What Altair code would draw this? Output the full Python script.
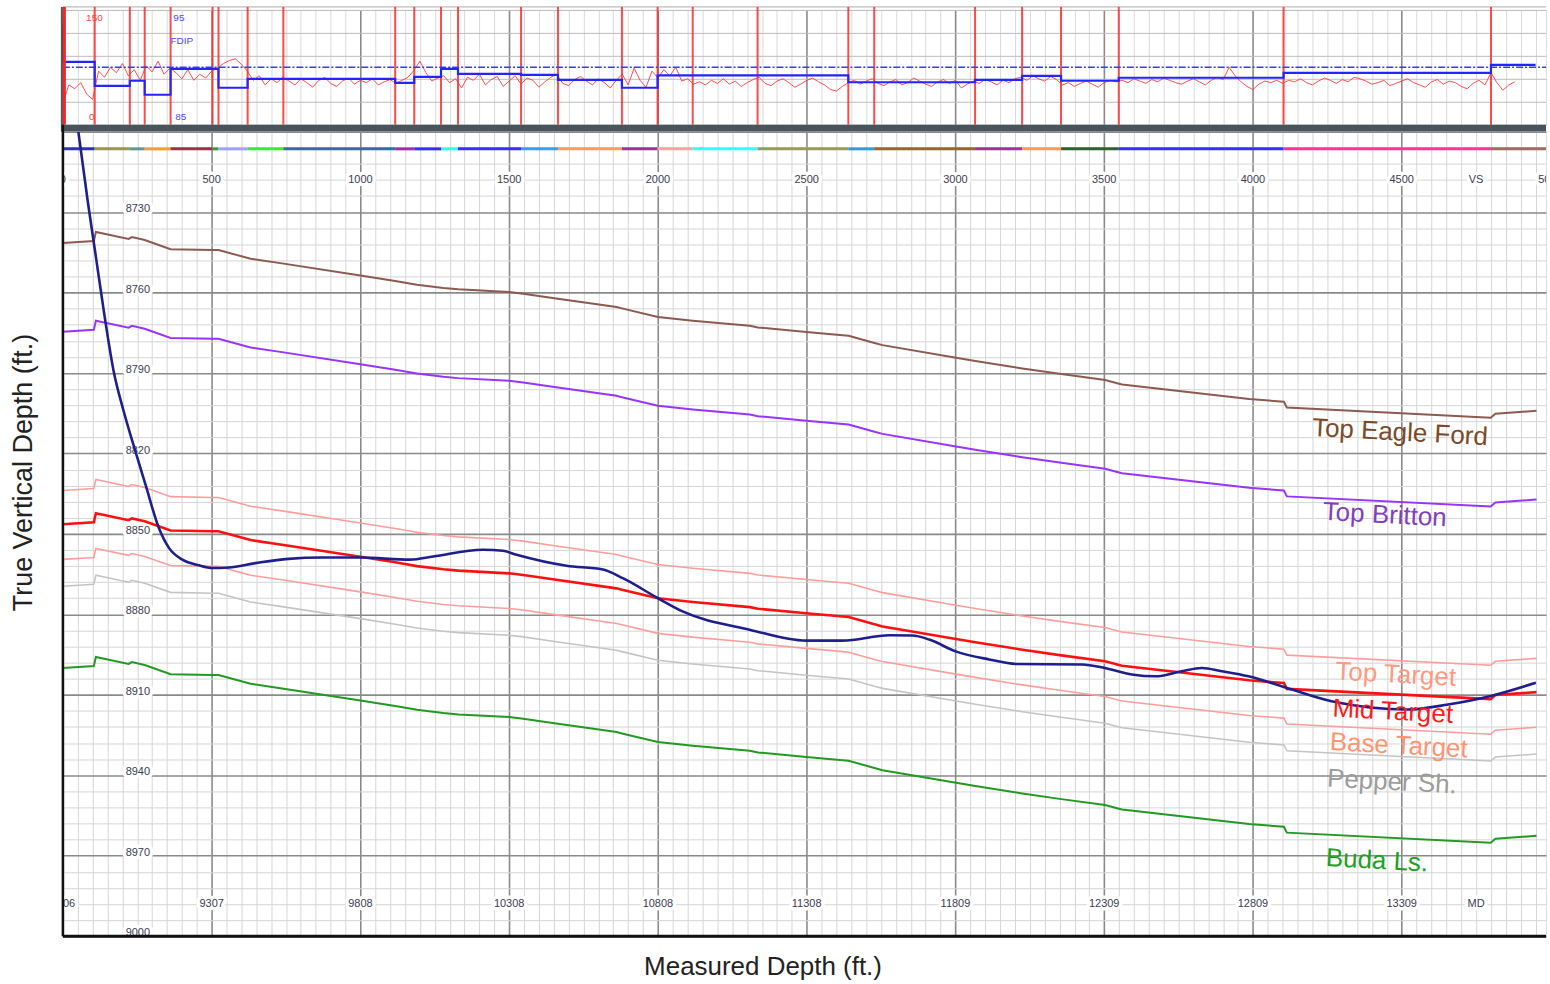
import altair as alt
import pandas as pd

FONT = "Liberation Sans"
VS_MAX = 4985          # right edge of the section, ft of vertical section
W = 1486               # panel width, px
H_STRIP = 115          # log strip height, px
H_MAIN = 806           # cross-section height, px

# ---------------- formation tops along the section ----------------
form_vs = [0, 104, 111, 221, 232, 275, 362, 503, 523, 631, 742, 1000, 1117, 1190,
           1279, 1329, 1500, 1547, 1664, 1861, 1879, 2000, 2117, 2309, 2336, 2499,
           2621, 2641, 2728, 2755, 3002, 3067, 3225, 3356, 3503, 3550, 3560, 3987,
           4104, 4114, 4799, 4815, 4953]

top_eagle_ford = [8741.5, 8740.8, 8737.4, 8740.0, 8739.3, 8740.4, 8743.8, 8744.1, 8744.1,
                  8747.4, 8749.2, 8753.6, 8755.7, 8757.1, 8758.3, 8758.8, 8759.8, 8760.4,
                  8762.3, 8765.4, 8765.9, 8769.1, 8770.5, 8772.4, 8773.0, 8774.7, 8775.9,
                  8776.1, 8778.8, 8779.6, 8784.3, 8785.5, 8788.3, 8790.4, 8792.6, 8794.0,
                  8794.3, 8799.7, 8800.7, 8802.9, 8806.7, 8805.2, 8804.1]

top_britton = [8774.6, 8773.9, 8770.5, 8773.1, 8772.4, 8773.5, 8776.9, 8777.2, 8777.2,
               8780.5, 8782.3, 8786.7, 8788.8, 8790.2, 8791.4, 8791.9, 8792.9, 8793.5,
               8795.4, 8798.5, 8799.0, 8802.2, 8803.6, 8805.5, 8806.1, 8807.8, 8809.0,
               8809.2, 8811.9, 8812.7, 8817.4, 8818.6, 8821.4, 8823.5, 8825.7, 8827.1,
               8827.4, 8832.8, 8833.8, 8836.0, 8839.8, 8838.3, 8837.2]

top_target = [8833.8, 8833.1, 8829.7, 8832.3, 8831.6, 8832.7, 8836.1, 8836.4, 8836.4,
              8839.7, 8841.5, 8845.9, 8848.0, 8849.4, 8850.6, 8851.1, 8852.1, 8852.7,
              8854.6, 8857.7, 8858.2, 8861.4, 8862.8, 8864.7, 8865.3, 8867.0, 8868.2,
              8868.4, 8871.1, 8871.9, 8876.6, 8877.8, 8880.6, 8882.7, 8884.9, 8886.3,
              8886.6, 8892.0, 8893.0, 8895.2, 8899.0, 8897.5, 8896.4]

mid_target = [8846.4, 8845.7, 8842.3, 8844.9, 8844.2, 8845.3, 8848.7, 8849.0, 8849.0,
              8852.3, 8854.1, 8858.5, 8860.6, 8862.0, 8863.2, 8863.7, 8864.7, 8865.3,
              8867.2, 8870.3, 8870.8, 8874.0, 8875.4, 8877.3, 8877.9, 8879.6, 8880.8,
              8881.0, 8883.7, 8884.5, 8889.2, 8890.4, 8893.2, 8895.3, 8897.5, 8898.9,
              8899.2, 8904.6, 8905.6, 8907.8, 8911.6, 8910.1, 8909.0]

base_target = [8859.5, 8858.8, 8855.4, 8858.0, 8857.3, 8858.4, 8861.8, 8862.1, 8862.1,
               8865.4, 8867.2, 8871.6, 8873.7, 8875.1, 8876.3, 8876.8, 8877.8, 8878.4,
               8880.3, 8883.4, 8883.9, 8887.1, 8888.5, 8890.4, 8891.0, 8892.7, 8893.9,
               8894.1, 8896.8, 8897.6, 8902.3, 8903.5, 8906.3, 8908.4, 8910.6, 8912.0,
               8912.3, 8917.7, 8918.7, 8920.9, 8924.7, 8923.2, 8922.1]

pepper_sh = [8869.5, 8868.8, 8865.4, 8868.0, 8867.3, 8868.4, 8871.8, 8872.1, 8872.1,
             8875.4, 8877.2, 8881.6, 8883.7, 8885.1, 8886.3, 8886.8, 8887.8, 8888.4,
             8890.3, 8893.4, 8893.9, 8897.1, 8898.5, 8900.4, 8901.0, 8902.7, 8903.9,
             8904.1, 8906.8, 8907.6, 8912.3, 8913.5, 8916.3, 8918.4, 8920.6, 8922.0,
             8922.3, 8927.7, 8928.7, 8930.9, 8934.7, 8933.2, 8932.1]

buda_ls = [8900.0, 8899.3, 8895.9, 8898.5, 8897.8, 8898.9, 8902.3, 8902.6, 8902.6,
           8905.9, 8907.7, 8912.1, 8914.2, 8915.6, 8916.8, 8917.3, 8918.3, 8918.9,
           8920.8, 8923.9, 8924.4, 8927.6, 8929.0, 8930.9, 8931.5, 8933.2, 8934.4,
           8934.6, 8937.3, 8938.1, 8942.8, 8944.0, 8946.8, 8948.9, 8951.1, 8952.5,
           8952.8, 8958.2, 8959.2, 8961.4, 8965.2, 8963.7, 8962.6]

formation_names = ["Top Eagle Ford", "Top Britton", "Top Target", "Mid Target",
                   "Base Target", "Pepper Sh.", "Buda Ls."]
formation_tops = [top_eagle_ford, top_britton, top_target, mid_target,
                  base_target, pepper_sh, buda_ls]

# ---------------- wellbore trajectory ----------------
well_vs = [52, 84, 111, 138, 171, 203, 234, 278, 323, 357, 402, 457, 502, 557, 647,
           758, 871, 1000, 1167, 1245, 1412, 1479, 1525, 1693, 1815, 1882, 1999, 2083,
           2308, 2498, 2620, 2778, 2855, 2912, 3001, 3113, 3203, 3425, 3502, 3593,
           3672, 3761, 3828, 3895, 3985, 4096, 4264, 4522, 4656, 4796, 4951]
well_tvd = [8700.0, 8726.3, 8746.7, 8767.2, 8789.5, 8803.7, 8815.6, 8831.7, 8847.9,
            8855.3, 8859.6, 8861.7, 8862.7, 8862.5, 8860.9, 8859.3, 8858.8, 8858.8,
            8859.6, 8858.4, 8855.9, 8856.3, 8857.8, 8861.9, 8863.3, 8866.5, 8873.9,
            8878.9, 8885.7, 8889.8, 8889.8, 8887.8, 8887.9, 8889.4, 8893.8, 8896.8,
            8898.5, 8898.7, 8900.0, 8902.4, 8903.1, 8901.2, 8900.0, 8901.2, 8903.1,
            8906.8, 8912.4, 8915.5, 8913.6, 8910.5, 8905.5]

# ---------------- gamma ray log (sampled every 20 ft VS) ----------------
gr_vs = list(range(0, 4881, 20))
gr_api = [
    28, 52, 47, 55, 40, 33,
    70, 62, 75, 68, 80, 64, 72, 58, 77, 69, 83, 66, 74,
    68, 60, 72, 58, 66, 61, 70,
    74, 80, 84, 86, 79, 70,
    58, 64, 52, 60, 55, 62,
    57, 52, 60, 55, 49, 58, 62, 54, 50, 57, 61, 53, 58, 55, 60, 52, 56, 59,
    54, 58, 62, 71, 83, 68, 57, 61, 64,
    55, 60, 48, 62, 58, 66, 52, 59, 63, 50, 57, 64, 53, 61, 58, 49, 56, 62, 66, 54,
    51, 59, 63, 57, 52, 60, 55, 48, 58,
    66, 52, 74, 58, 49, 70, 61,
    72, 64, 75, 57, 60, 53,
    56, 52, 58, 54, 60, 53, 57, 50, 55, 59, 62, 54, 51, 57, 60, 55, 49, 53, 58, 61,
    56, 52, 46, 44, 50, 55, 58, 53, 57, 60, 54, 51, 56, 59, 52, 55, 61, 57, 53, 50,
    56, 59, 54, 58,
    48, 53, 57, 54, 59, 56, 52, 58, 55, 60,
    62, 58, 64, 60, 57, 63, 59, 52, 55, 50, 54, 57, 53, 49, 55, 58, 56,
    58, 55, 60, 57, 54, 59, 56, 61, 58, 55, 53, 57, 60, 56, 52, 58, 62, 59, 75, 64,
    56, 50, 46, 53, 57, 55, 58,
    54, 58, 56, 60, 55, 52, 57, 61, 58, 54, 59, 56, 62, 60, 57, 53, 55, 58, 51, 54,
    57, 60, 55, 52, 49, 56, 59, 53, 57, 55, 50, 47, 54, 58, 52,
    68, 55, 45, 52, 56,
]

# ---------------- dip picks ----------------
pick_vs = [107, 225, 275, 362, 503, 523, 621, 741, 1117, 1181, 1271, 1328, 1540,
           1664, 1879, 1999, 2117, 2335, 2640, 2727, 3066, 3224, 3355, 3549, 4103, 4800]

dip_vs = [0, 0, 107, 225, 275, 362, 523, 621, 1117, 1181, 1271, 1328, 1540, 1664,
          1879, 1999, 2640, 3066, 3224, 3355, 3549, 4103, 4800, 4950]
dip_deg = [93.7, 90.48, 88.39, 88.83, 87.61, 89.87, 88.22, 89.0, 88.65, 89.17, 89.87,
           89.43, 89.35, 88.91, 88.22, 89.3, 88.7, 88.91, 89.26, 88.83, 89.09, 89.52,
           90.22, 90.22]

# zone colour band between picks
band_edges = [0, 107, 225, 275, 362, 503, 523, 621, 741, 1117, 1181, 1271, 1328, 1540,
              1664, 1879, 1999, 2117, 2335, 2640, 2727, 3066, 3224, 3355, 3549, 4103,
              4800, 4985]
band_colors = ["#3030c0", "#9a9a40", "#5f9a9a", "#ff9a33", "#a0304a", "#30a030",
               "#a0a0ff", "#30f030", "#2f6f9f", "#a030a0", "#3030ff", "#30ffff",
               "#3030ff", "#30a0ff", "#ff9a5a", "#a030a0", "#ffa0a0", "#30ffff",
               "#9a9a60", "#30a0d0", "#a06030", "#a030a0", "#ff9a50", "#306030",
               "#3030ff", "#ff3399", "#a06a60"]

# ---------------- scale labels ----------------
vs_ticks = [0, 500, 1000, 1500, 2000, 2500, 3000, 3500, 4000, 4500, 5000]
md_ticks = ["8806", "9307", "9808", "10308", "10808", "11308", "11809", "12309",
            "12809", "13309"]
tvd_ticks = [8730, 8760, 8790, 8820, 8850, 8880, 8910, 8940, 8970, 9000]

# ---------------- styles ----------------
line_styles = {
    "Top Eagle Ford": ("#8c5a50", 2.0),
    "Top Britton": ("#9933ff", 2.0),
    "Top Target": ("#ff9d9d", 1.6),
    "Mid Target": ("#ff1010", 2.6),
    "Base Target": ("#ff9d9d", 1.6),
    "Pepper Sh.": ("#c4c4c4", 1.6),
    "Buda Ls.": ("#229a22", 2.0),
}
label_colors = ["#7a4a28", "#8040c0", "#ff9a80", "#ff1a1a", "#ff9470", "#9c9c9c", "#20a020"]
label_vs = [4494, 4443, 4480, 4470, 4490, 4467, 4417]
label_tvd = [8812.2, 8843.0, 8902.5, 8916.3, 8929.0, 8942.5, 8971.9]

# ---------------- scales / axes ----------------
vs_scale = alt.Scale(domain=[0, VS_MAX], nice=False, zero=False)
tvd_scale = alt.Scale(domain=[8700, 9000], reverse=True, nice=False, zero=False)
gr_scale = alt.Scale(domain=[0, 150], nice=False, zero=False)
dip_scale = alt.Scale(domain=[85, 95], nice=False, zero=False)


def grid_props(test, minor="#d6d6d6", major="#8a8a8a"):
    return dict(
        grid=True, labels=False, ticks=False, domain=False,
        gridColor={"condition": {"test": test, "value": major}, "value": minor},
        gridWidth={"condition": {"test": test, "value": 1.6}, "value": 1},
    )


title_style = dict(titleFont=FONT, titleFontWeight="normal", titleColor="#222222",
                   titleAlign="center", titleBaseline="middle")

X_MAIN = alt.X("vs:Q", scale=vs_scale,
               axis=alt.Axis(values=list(range(0, 5001, 50)),
                             title="Measured Depth (ft.)", titleX=701, titleY=30,
                             titleFontSize=26,
                             **grid_props("datum.value % 500 === 0"), **title_style))
Y_MAIN = alt.Y("tvd:Q", scale=tvd_scale,
               axis=alt.Axis(values=list(range(8700, 9001, 6)),
                             title="True Vertical Depth (ft.)", titleX=-39, titleY=341,
                             titleAngle=270, titleFontSize=27,
                             **grid_props("datum.value % 30 === 0"), **title_style))

X_STRIP = alt.X("vs:Q", scale=vs_scale,
                axis=alt.Axis(values=list(range(0, 5001, 50)), title=None,
                              **grid_props("datum.value % 500 === 0", minor="#dadada")))
Y_GR = alt.Y("gr:Q", scale=gr_scale,
             axis=alt.Axis(values=[0, 30, 60, 90, 120, 150], title=None, grid=True,
                           labels=False, ticks=False, domain=False, gridColor="#bdbdbd"))
Y_GR_NOAX = alt.Y("gr:Q", scale=gr_scale, axis=None)
Y_DIP = alt.Y("dip:Q", scale=dip_scale, axis=None)

EMPTY = alt.Data(values=[{}])

# ---------------- log strip ----------------
gr_df = pd.DataFrame({"vs": gr_vs, "gr": gr_api})
pick_df = pd.DataFrame({"vs": pick_vs})
dip_df = pd.DataFrame({"vs": dip_vs, "dip": dip_deg})
dip90_df = pd.DataFrame({"vs": [0, VS_MAX], "dip": [90, 90]})
gr_lbl = pd.DataFrame({"vs": [106, 97], "gr": [139.6, 10.4], "text": ["150", "0"]})
dip_lbl = pd.DataFrame({"vs": [390, 396, 400], "dip": [94.3, 85.7, 92.3],
                        "text": ["95", "85", "FDIP"]})

strip_layers = [
    alt.Chart(gr_df).mark_line(opacity=0).encode(x=X_STRIP, y=Y_GR),
    alt.Chart(EMPTY).mark_rule(color="#bdbdbd", strokeWidth=1.2).encode(
        x=alt.value(0), x2=alt.value(W), y=alt.value(-3)),
    alt.Chart(pick_df).mark_rule(color="#ff2a2a", strokeWidth=2, opacity=0.85).encode(
        x=X_STRIP, y=alt.value(-3), y2=alt.value(H_STRIP)),
    alt.Chart(gr_df).mark_line(color="#ff3030", strokeWidth=1, opacity=0.85).encode(
        x=X_STRIP, y=Y_GR_NOAX),
    alt.Chart(dip90_df).mark_line(color="#3a3aff", strokeWidth=1.4,
                                  strokeDash=[7, 2, 2, 2]).encode(x=X_STRIP, y=Y_DIP),
    alt.Chart(dip_df).mark_line(color="#2424ff", strokeWidth=2.2,
                                interpolate="step-after").encode(x=X_STRIP, y=Y_DIP),
    alt.Chart(EMPTY).mark_rule(color="#ff2020", strokeWidth=3).encode(
        x=alt.value(1.5), y=alt.value(-3), y2=alt.value(H_STRIP)),
    alt.Chart(gr_lbl).mark_text(font=FONT, fontSize=10, color="#ff4040").encode(
        x=X_STRIP, y=Y_GR_NOAX, text="text:N"),
    alt.Chart(dip_lbl).mark_text(font=FONT, fontSize=10, color="#4848ff").encode(
        x=X_STRIP, y=Y_DIP, text="text:N"),
    alt.Chart(EMPTY).mark_rule(color="#49535b", strokeWidth=7).encode(
        x=alt.value(0), x2=alt.value(W), y=alt.value(H_STRIP + 3.5)),
    alt.Chart(EMPTY).mark_rule(color="#555555", strokeWidth=2).encode(
        x=alt.value(-1), y=alt.value(-3), y2=alt.value(H_STRIP + 7)),
]
strip = alt.layer(*strip_layers).resolve_scale(y="independent").properties(
    width=W, height=H_STRIP)

# ---------------- cross-section ----------------
def scale_text(df):
    base = alt.Chart(df).encode(x=X_MAIN, y=Y_MAIN, text="text:N")
    halo = base.mark_text(font=FONT, fontSize=11, color="white", stroke="white",
                          strokeWidth=7, strokeJoin="round", baseline="middle", clip=True)
    txt = base.mark_text(font=FONT, fontSize=11, color="#3c3c50", baseline="middle",
                         clip=True)
    return [halo, txt]


vs_lbl = pd.DataFrame({"vs": vs_ticks + [4750], "tvd": 8718,
                       "text": [str(v) for v in vs_ticks] + ["VS"]})
md_lbl = pd.DataFrame({"vs": vs_ticks[:-1] + [4750], "tvd": 8988,
                       "text": md_ticks + ["MD"]})
tvd_lbl = pd.DataFrame({"vs": 252, "tvd": [t - 1.1 for t in tvd_ticks],
                        "text": [str(t) for t in tvd_ticks]})

band_df = pd.DataFrame({"vs": band_edges[:-1], "vs2": band_edges[1:], "tvd": 8706.4,
                        "color": band_colors})

main_layers = [alt.Chart(pd.DataFrame({"vs": [0], "tvd": [8700]})).mark_point(opacity=0)
               .encode(x=X_MAIN, y=Y_MAIN)]
main_layers += scale_text(vs_lbl) + scale_text(md_lbl) + scale_text(tvd_lbl)
main_layers.append(
    alt.Chart(band_df).mark_rule(strokeWidth=3).encode(
        x=X_MAIN, x2="vs2:Q", y=Y_MAIN, color=alt.Color("color:N", scale=None)))

for name, tops in zip(formation_names, formation_tops):
    col, sw = line_styles[name]
    main_layers.append(
        alt.Chart(pd.DataFrame({"vs": form_vs, "tvd": tops}))
        .mark_line(color=col, strokeWidth=sw, clip=True)
        .encode(x=X_MAIN, y=Y_MAIN))

main_layers.append(
    alt.Chart(pd.DataFrame({"vs": well_vs, "tvd": well_tvd}))
    .mark_line(color="#1e1e8c", strokeWidth=2.6, interpolate="monotone", clip=True)
    .encode(x=X_MAIN, y=Y_MAIN))

names_df = pd.DataFrame({"vs": label_vs, "tvd": label_tvd, "text": formation_names,
                         "color": label_colors})
main_layers.append(
    alt.Chart(names_df).mark_text(font=FONT, fontSize=26, angle=3, baseline="middle")
    .encode(x=X_MAIN, y=Y_MAIN, text="text:N", color=alt.Color("color:N", scale=None)))

main_layers.append(alt.Chart(EMPTY).mark_rule(color="#111111", strokeWidth=2.5).encode(
    x=alt.value(0), y=alt.value(-7), y2=alt.value(H_MAIN)))
main_layers.append(alt.Chart(EMPTY).mark_rule(color="#111111", strokeWidth=3).encode(
    x=alt.value(0), x2=alt.value(W), y=alt.value(H_MAIN)))

main = alt.layer(*main_layers).properties(width=W, height=H_MAIN)

chart = (
    alt.vconcat(strip, main, spacing=7, bounds="flush")
    .properties(padding={"left": 9, "top": 4, "right": 0, "bottom": 0},
                background="white")
    .configure_view(stroke=None)
    .configure(font=FONT)
)

chart.save("out.html", embed_options={"renderer": "svg", "actions": False})
